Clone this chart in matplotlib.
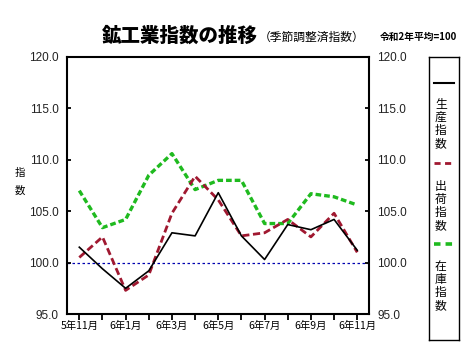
import matplotlib
matplotlib.use('Agg')
import matplotlib.pyplot as plt

plt.rcParams['font.family'] = ['Noto Sans CJK JP', 'DejaVu Sans']

# 5年11月 .. 6年11月 (13 months)
months = ['5年11月', '6年12月', '6年1月', '6年2月', '6年3月', '6年4月', '6年5月',
          '6年6月', '6年7月', '6年8月', '6年9月', '6年10月', '6年11月']
production = [101.5, 99.4, 97.5, 99.2, 102.9, 102.6, 106.8, 102.6, 100.3, 103.7, 103.2, 104.2, 101.2]
shipments = [100.5, 102.5, 97.3, 98.8, 104.8, 108.4, 106.1, 102.6, 102.9, 104.2, 102.5, 104.8, 101.0]
inventory = [107.0, 103.4, 104.2, 108.5, 110.6, 107.1, 108.0, 108.0, 103.8, 103.8, 106.7, 106.4, 105.6]
yticks = [95.0, 100.0, 105.0, 110.0, 115.0, 120.0]

red = '#A01830'
green = '#1FBA1F'

fig = plt.figure(figsize=(4.76, 3.59), dpi=100)
ax = fig.add_axes([0.1408, 0.1253, 0.634, 0.716])

x = list(range(len(months)))
ax.axhline(100, color='#0000B0', lw=0.9, ls=(0, (2, 2)), zorder=1)
ax.plot(x, inventory, color=green, lw=2.4, ls=(0, (1.7, 0.9)), zorder=2)
ax.plot(x, shipments, color=red, lw=2.0, ls=(0, (2.6, 1.3)), zorder=3)
ax.plot(x, production, color='black', lw=1.2, zorder=4)

ax.set_xlim(-0.53, 12.5)
ax.set_ylim(95, 120)
ax.set_xticks(x)
ax.set_xticklabels([m if i % 2 == 0 else '' for i, m in enumerate(months)])
ax.set_yticks(yticks)
ax.set_yticklabels(['%.1f' % v for v in yticks])
for lab in ax.get_xticklabels():
    lab.set_fontsize(7.5)
ax.tick_params(axis='x', direction='out', length=4, width=1.3, pad=1)
ax.tick_params(axis='y', direction='in', length=3, width=1.3, labelsize=8.5,
               labelcolor='#222222', left=True, right=True,
               labelleft=True, labelright=True, pad=6)
for lab in ax.get_yticklabels():
    lab.set_family(['Liberation Sans', 'DejaVu Sans'])
for s in ax.spines.values():
    s.set_linewidth(1.5)

fig.text(20 / 476, 1 - 182 / 359, '指\n\n数', fontsize=7.5, ha='center', va='center', linespacing=0.9)

fig.text(180 / 476, 1 - 36 / 359, '鉱工業指数の推移', fontsize=14, fontweight='heavy',
         ha='center', va='center')
fig.text(312 / 476, 1 - 37 / 359, '（季節調整済指数）', fontsize=8.5, ha='center', va='center')
fig.text(418 / 476, 1 - 37 / 359, '令和2年平均=100', fontsize=7, fontweight='bold',
         ha='center', va='center')

# legend box
lax = fig.add_axes([429 / 476, 1 - 340 / 359, 30 / 476, 283 / 359])
lax.set_xlim(0, 30)
lax.set_ylim(340, 57)
lax.set_xticks([])
lax.set_yticks([])
for s in lax.spines.values():
    s.set_linewidth(1.0)
lax.plot([5, 25], [83, 83], color='black', lw=1.5)
lax.plot([5, 25], [163, 163], color=red, lw=2.0, ls=(0, (2.2, 1.6)))
lax.plot([5, 25], [244, 244], color=green, lw=2.6, ls=(0, (1.8, 1.4)))
for ytop, name in [(98, '生産指数'), (180, '出荷指数'), (260, '在庫指数')]:
    lax.text(6, ytop, '\n'.join(name), fontsize=8.5, ha='left', va='top', linespacing=1.0)

fig.savefig('out.png', dpi=100)
